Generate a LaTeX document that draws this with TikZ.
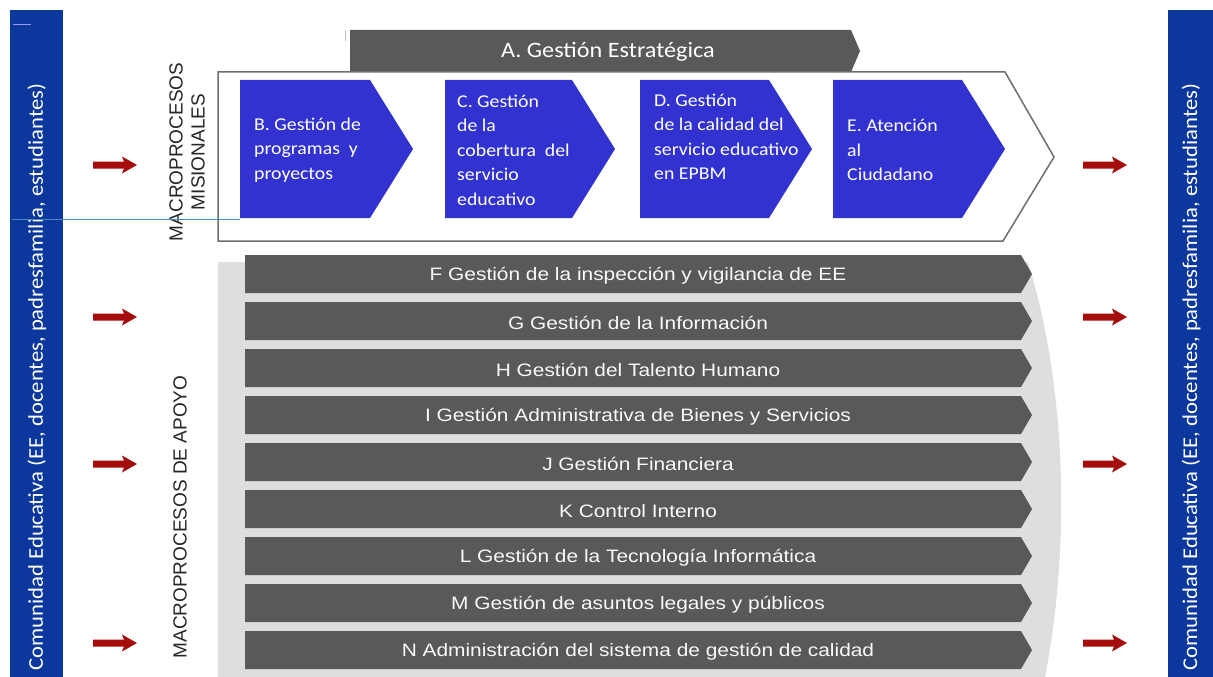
\documentclass[tikz,border=0pt]{standalone}
\usepackage{fontspec}
\setmainfont{Carlito}
\newfontfamily\arialf{Liberation Sans}
\newfontfamily\arialw[FakeStretch=1.16]{Liberation Sans}
\newfontfamily\calw[FakeStretch=1.1]{Carlito}
\newfontfamily\cals[FakeStretch=1.08]{Carlito}
\definecolor{barblue}{RGB}{12,56,158}
\definecolor{chevblue}{RGB}{50,50,208}
\definecolor{bargray}{RGB}{89,89,89}
\definecolor{bggray}{RGB}{222,222,222}
\definecolor{framegray}{RGB}{110,110,110}
\definecolor{arrowred}{RGB}{165,12,12}
\definecolor{thinblue}{RGB}{70,140,190}
\begin{document}
\begin{tikzpicture}[x=1pt,y=-1pt,
  sidetext/.style={rotate=90, text=white, inner sep=0pt, font=\cals\fontsize{21}{24}\selectfont},
  redarrow/.pic={\fill[arrowred] (-22,-3.5) -- (9,-3.5) -- (7,-8.5) -- (22,0) -- (7,8.5) -- (9,3.5) -- (-22,3.5) -- cycle;},
  chevtext/.style={text=white, align=left, anchor=west, inner sep=0pt, font=\calw\fontsize{18}{24.5}\selectfont},
  grouplabel/.style={rotate=90, align=center, inner sep=0pt, text=black!85, font=\arialf\fontsize{19}{22}\selectfont},
  bartext/.style={text=white!95!gray, inner sep=0pt, yshift=-2pt, font=\arialw\fontsize{18}{20}\selectfont}
]
\useasboundingbox (0,0) rectangle (1213,677);
\fill[white] (0,0) rectangle (1213,677);

% side bars
\fill[barblue] (10,10) rectangle (63,677);
\fill[barblue] (1168,10) rectangle (1213,677);
\draw[blue!40!white, line width=0.8pt] (13,24) -- (31,24);
\node[sidetext] (leftlabel) at (37,377) {Comunidad Educativa (EE, docentes, padresfamilia, estudiantes)};
\node[sidetext] (rightlabel) at (1191,377) {Comunidad Educativa (EE, docentes, padresfamilia, estudiantes)};

% red arrows
\foreach \y [count=\i] in {165,317,464,643} {
  \pic (la\i) at (115,\y) {redarrow};
  \pic (ra\i) at (1105,\y) {redarrow};
}

% group labels
\node[grouplabel] (mision) at (187,152) {MACROPROCESOS\\MISIONALES};
\node[grouplabel] (apoyo) at (180,517) {MACROPROCESOS DE APOYO};

% A bar
\fill[bargray] (350,30) -- (851,30) -- (860,51) -- (851,72) -- (350,72) -- cycle;
\draw[gray!50, line width=0.8pt] (345,31) -- (345,41);
\node[text=white, inner sep=0pt, font=\calw\fontsize{22}{24}\selectfont] (A) at (608,52) {A. Gestión Estratégica};

% misional frame
\draw[framegray, line width=1.5pt, fill=white] (218,72) -- (1005,72) -- (1054,157) -- (1003,241) -- (218,241) -- cycle;

% chevrons
\fill[chevblue] (240,80) -- (370,80) -- (413,149) -- (370,218) -- (240,218) -- cycle;
\fill[chevblue] (445,80) -- (572,80) -- (615,149) -- (572,218) -- (445,218) -- cycle;
\fill[chevblue] (640,80) -- (769,80) -- (812,149) -- (769,218) -- (640,218) -- cycle;
\fill[chevblue] (833,80) -- (962,80) -- (1005,149) -- (962,218) -- (833,218) -- cycle;
\node[chevtext] (B) at (254,150) {B. Gestión de\\programas~ y\\proyectos};
\node[chevtext] (C) at (457,150) {C. Gestión\\de la\\cobertura~ del\\servicio\\educativo};
\node[chevtext] (D) at (654,137) {D. Gestión\\de la calidad del\\servicio educativo\\en EPBM};
\node[chevtext] (E) at (847,150) {E. Atención\\al\\Ciudadano};

\draw[thinblue, line width=0.8pt] (12,219) -- (240,219);

% support background
\fill[bggray] (218,262) -- (1028,262) .. controls (1070,400) and (1068,560) .. (1045,677) -- (218,677) -- cycle;

% support bars
\foreach \n/\t [count=\i from 0] in {
  F/F Gestión de la inspección y vigilancia de EE,
  G/G Gestión de la Información,
  H/H Gestión del Talento Humano,
  I/I Gestión Administrativa de Bienes y Servicios,
  J/J Gestión Financiera,
  K/K Control Interno,
  L/L Gestión de la Tecnología Informática,
  M/M Gestión de asuntos legales y públicos,
  N/N Administración del sistema de gestión de calidad} {
  \pgfmathsetmacro\yt{255+47*\i}
  \pgfmathsetmacro\yb{\yt+38}
  \pgfmathsetmacro\ym{\yt+19}
  \fill[bargray] (245,\yt) -- (1021,\yt) -- (1032,\ym) -- (1021,\yb) -- (245,\yb) -- cycle;
  \node[bartext] (bar\n) at (638,\ym) {\t};
}
\end{tikzpicture}
\end{document}
